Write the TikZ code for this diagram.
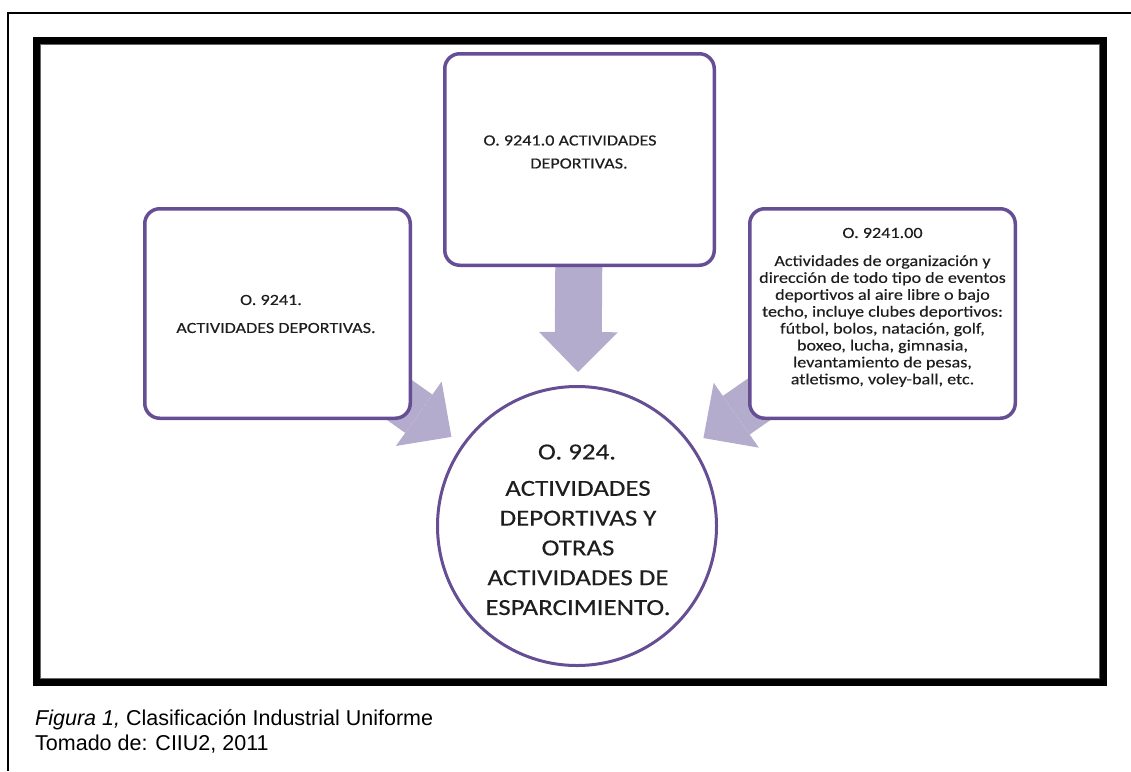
\documentclass[tikz,border=0pt]{standalone}
\usepackage{fontspec}
\setmainfont{Liberation Sans}
\newfontfamily\boxfont[FakeStretch=1.17,FakeBold=0.25]{Carlito}
\usetikzlibrary{arrows.meta}
\pgfdeclarelayer{bg}
\pgfsetlayers{bg,main}
\definecolor{boxline}{RGB}{102,78,148}
\definecolor{arrowfill}{RGB}{180,172,205}
\definecolor{ink}{RGB}{30,30,30}

\begin{document}
\begin{tikzpicture}[x=1pt,y=-1pt,
  catbox/.style={draw=boxline, line width=3.5pt, rounded corners=15pt,
    fill=white, inner sep=0pt, minimum width=#1},
  hubcircle/.style={circle, draw=boxline, line width=3pt, fill=white,
    inner sep=0pt, minimum size=279pt},
  blockarrow/.style={arrowfill, line width=47pt,
    -{Triangle[width=79pt,length=40pt,line width=0pt]}, shorten >=154pt},
  boxtext/.style={text=ink, inner sep=0pt, align=center,
    font=\boxfont\fontsize{15.5}{#1}\selectfont},
  hubtext/.style={text=ink, inner sep=0pt, align=center,
    font=\boxfont\fontsize{23}{#1}\selectfont},
  captext/.style={inner sep=0pt, anchor=base west,
    font=\fontsize{21.5}{25}\selectfont}]

\useasboundingbox (0,0) rectangle (1131,771);

% page frame (open on the right and bottom)
\draw[line width=2.5pt] (8,771) -- (8,13) -- (1131,13);

% heavy picture border
\draw[line width=6.8pt] (36.7,40.6) rectangle (1103.4,682.4);
\draw[line width=1pt, black!60] (40.6,44.5) rectangle (1099.5,678.5);

% classification boxes
\node[catbox=269.5pt, minimum height=211.5pt] (topbox) at (579.5,159.5) {};
\node[catbox=265.5pt, minimum height=209.5pt] (leftbox) at (277.5,313.5) {};
\node[catbox=265.5pt, minimum height=209.5pt] (rightbox) at (882.5,313.5) {};
\node[hubcircle] (hub) at (577,526) {};

% block arrows pointing into the central circle
\begin{pgfonlayer}{bg}
  \draw[blockarrow] (topbox.center) -- (hub.center);
  \draw[blockarrow] (leftbox.center) -- (hub.center);
  \draw[blockarrow] (rightbox.center) -- (hub.center);
\end{pgfonlayer}

% box texts
\node[boxtext=23pt] (toptext) at (579,152)
  {O. 9241.0 ACTIVIDADES\hspace*{18pt}\\DEPORTIVAS.};
\node[boxtext=28pt] (lefttext) at (276,314)
  {O. 9241.\hspace*{10pt}\\ACTIVIDADES DEPORTIVAS.};
\node[boxtext=17pt] (righttitle) at (882.5,233) {O. 9241.00};
\node[boxtext=16.9pt] (rightbody) at (882.5,321)
  {Actividades de organización y\\
   dirección de todo tipo de eventos\\
   deportivos al aire libre o bajo\\
   techo, incluye clubes deportivos:\\
   fútbol, bolos, natación, golf,\\
   boxeo, lucha, gimnasia,\\
   levantamiento de pesas,\\
   atletismo, voley-ball, etc.};
\node[hubtext=30pt] (hubtitle) at (577,452) {O. 924.};
\node[hubtext=29.8pt] (hubbody) at (578,548)
  {ACTIVIDADES\\DEPORTIVAS Y\\OTRAS\\ACTIVIDADES DE\\ESPARCIMIENTO.};

% caption
\node[captext] (cap1) at (35,725) {\textit{Figura 1,} Clasificación Industrial Uniforme};
\node[captext] (cap2) at (35,750) {Tomado de: CIIU2, 2011};
\end{tikzpicture}
\end{document}
